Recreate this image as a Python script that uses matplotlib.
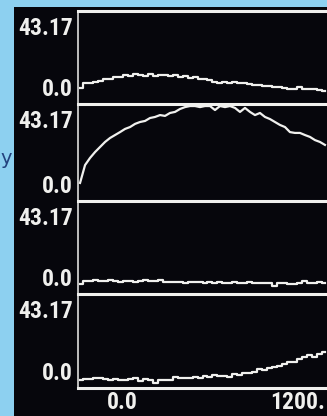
import numpy as np
import matplotlib
matplotlib.use('Agg')
from matplotlib import pyplot as plt
from matplotlib import font_manager
from matplotlib.patches import Rectangle

# time axis of the traces (s), first and last sample
time_start = -286
time_end = 1384
x_range = (-300, 1398)
x_ticks = [0, 1200]
x_tick_labels = ['0.0', '1200.']

# every channel is drawn on the same 0.0 .. 43.17 scale
y_bottom_label = '0.0'
y_top_label = '43.17'
y_max = 43.17

trace_1 = [5.0, 7.4, 7.4, 7.9, 8.4, 9.4, 9.4, 10.4, 10.4, 11.4,
           10.9, 11.9, 11.4, 10.9, 11.9, 10.9, 11.4, 11.4, 10.9, 11.4,
           10.4, 10.9, 9.9, 10.4, 9.4, 9.4, 8.9, 7.9, 7.4, 7.9,
           7.4, 7.9, 7.4, 7.4, 6.9, 6.4, 6.4, 6.0, 6.0, 5.5,
           5.5, 5.0, 4.5, 4.5, 5.5, 4.5, 4.5, 4.5, 4.0, 3.5]

trace_2 = [5.6, 14.1, 17.5, 20.3, 22.7, 25.1, 27.0, 28.4, 29.8, 31.3,
           32.2, 33.7, 34.6, 35.1, 36.5, 37.0, 37.9, 37.5, 38.9, 39.4,
           40.8, 41.7, 42.2, 42.2, 41.7, 42.2, 42.2, 40.3, 42.2, 41.7,
           42.2, 41.3, 39.4, 41.3, 39.4, 37.9, 38.9, 37.0, 36.0, 34.6,
           33.2, 32.2, 29.8, 29.4, 29.4, 28.4, 27.5, 26.0, 25.1, 23.7]

trace_3 = [2.0, 3.5, 3.5, 4.0, 3.5, 3.5, 4.0, 3.5, 3.0, 3.5,
           3.5, 3.0, 3.5, 4.0, 3.5, 3.5, 4.0, 3.0, 3.0, 3.0,
           3.0, 2.5, 3.0, 3.0, 3.0, 2.5, 3.0, 2.5, 3.0, 2.5,
           2.5, 3.0, 2.5, 2.5, 3.0, 2.5, 2.5, 2.5, 2.5, 1.0,
           2.5, 2.5, 2.0, 2.0, 2.5, 3.5, 2.5, 2.5, 3.0, 2.5]

trace_4 = [1.0, 1.5, 1.5, 2.0, 2.0, 1.5, 1.0, 1.5, 1.0, 1.0,
           1.5, 2.0, 0.5, 1.5, 1.0, -0.5, 1.0, 1.0, 1.0, 2.5,
           2.0, 2.0, 2.0, 2.5, 2.0, 2.9, 2.5, 3.4, 2.9, 2.9,
           2.5, 3.9, 3.4, 4.4, 4.4, 4.9, 6.4, 5.9, 6.9, 7.4,
           7.9, 8.8, 9.8, 9.8, 11.3, 12.3, 13.3, 12.3, 13.7, 14.7]

# panel top / bottom in pixels (figure is 327 x 416)
panel_rows = [(11, 104), (104, 201), (201, 294), (294, 388)]
# the smooth rise of channel 2 is drawn as a line, the noisy ones as steps
draw_styles = ['steps-mid', 'default', 'steps-mid', 'steps-mid']

FG = '#f0f0ee'


def pick_font():
    '''
    Use a narrow bold face if there is one, like the screen font
    '''
    names = {f.name for f in font_manager.fontManager.ttflist}
    for name in ['Liberation Sans Narrow', 'Roboto Condensed',
                 'Open Sans Condensed', 'DejaVu Sans']:
        if name in names:
            return name
    return 'DejaVu Sans'


font_name = pick_font()
narrow = font_name != 'DejaVu Sans'
FONT = dict(family=font_name, fontweight='bold',
            fontsize=17 if narrow else 13,
            fontstretch='condensed', color=FG)


def build_graph():
    '''
    Draw the four stacked channels on a black screen
    '''
    fig = plt.figure(figsize=(3.27, 4.16), dpi=100)
    fig.patch.set_facecolor('#8dd0f0')
    # the black screen of the instrument
    fig.patches.append(Rectangle((14 / 327, 0), 1, 1 - 7 / 416,
                                 transform=fig.transFigure, zorder=-10,
                                 facecolor='#06060c', edgecolor='none'))
    # bit of page text at the left border
    fig.text(0.5 / 327, 1 - 158 / 416, 'y', ha='left', va='center',
             fontsize=14, color='#23427e')

    traces = [trace_1, trace_2, trace_3, trace_4]
    left = 78 / 327
    for i, (top, bottom) in enumerate(panel_rows):
        ax = fig.add_axes([left, 1 - bottom / 416, 1 - left,
                           (bottom - top) / 416])
        ax.set_facecolor('none')
        t = np.linspace(time_start, time_end, len(traces[i]))
        ax.plot(t, traces[i], color=FG, lw=1.6, drawstyle=draw_styles[i])
        ax.set_xlim(*x_range)
        ax.set_ylim(-3, y_max)
        for side in ['right', 'bottom']:
            ax.spines[side].set_visible(False)
        ax.spines['top'].set_color(FG)
        ax.spines['top'].set_linewidth(2.2)
        ax.spines['left'].set_color(FG)
        ax.spines['left'].set_linewidth(1.1)
        ax.set_yticks([])
        ax.annotate(y_top_label, xy=(0, 1), xycoords='axes fraction',
                    xytext=(-5, -6), textcoords='offset pixels',
                    ha='right', va='top', **FONT)
        ax.annotate(y_bottom_label, xy=(0, 0), xycoords='axes fraction',
                    xytext=(-5, 3), textcoords='offset pixels',
                    ha='right', va='bottom', **FONT)
        if i == len(panel_rows) - 1:
            ax.spines['bottom'].set_visible(True)
            ax.spines['bottom'].set_color(FG)
            ax.spines['bottom'].set_linewidth(2.2)
            ax.set_xticks(x_ticks)
            ax.set_xticklabels(x_tick_labels, **FONT)
            ax.tick_params(axis='x', length=0, pad=2)
        else:
            ax.set_xticks([])

    fig.savefig('out.png', dpi=100, facecolor=fig.get_facecolor())


if __name__ == '__main__':
    build_graph()
